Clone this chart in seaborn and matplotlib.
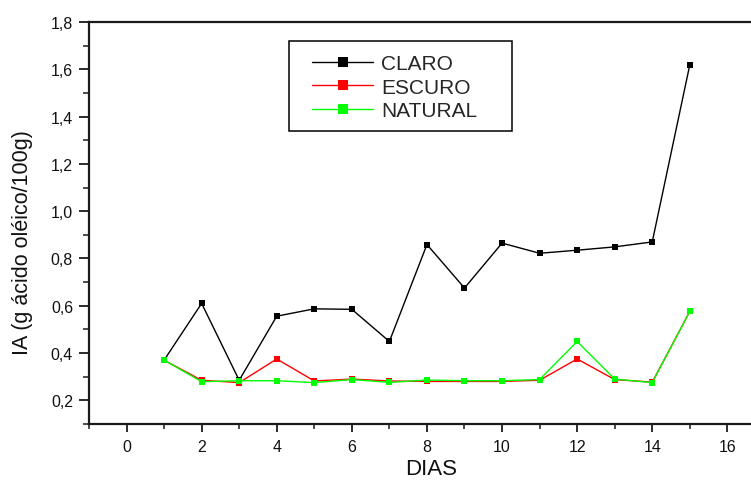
import matplotlib
matplotlib.use("Agg")
import matplotlib.pyplot as plt
from matplotlib.ticker import MultipleLocator, FuncFormatter
from matplotlib.lines import Line2D
from matplotlib.patches import Rectangle
import seaborn as sns
import pandas as pd

dias = list(range(1, 16))
claro = [0.37, 0.61, 0.285, 0.556, 0.587, 0.585, 0.449, 0.859, 0.675, 0.865,
         0.822, 0.835, 0.849, 0.870, 1.619]
escuro = [0.37, 0.285, 0.275, 0.375, 0.282, 0.290, 0.282, 0.280, 0.280, 0.280,
          0.285, 0.375, 0.288, 0.277, 0.576]
natural = [0.37, 0.279, 0.283, 0.283, 0.275, 0.288, 0.276, 0.286, 0.283, 0.283,
           0.288, 0.449, 0.290, 0.275, 0.576]
series = ["CLARO", "ESCURO", "NATURAL"]
colors = {"CLARO": "#000000", "ESCURO": "#ff0000", "NATURAL": "#00ff00"}

df = pd.DataFrame({
    "DIAS": dias * 3,
    "IA": claro + escuro + natural,
    "amostra": [s for s in series for _ in dias],
})

sns.set_style("ticks")
plt.rcParams["font.family"] = ["Liberation Sans", "DejaVu Sans"]

fig = plt.figure(figsize=(7.51, 4.81), dpi=100)
ax = fig.add_axes([0.1185, 0.1164, 0.9000, 0.8358])

sns.lineplot(data=df, x="DIAS", y="IA", hue="amostra", hue_order=series,
             palette=colors, marker="s", markersize=5, markeredgewidth=0,
             linewidth=1.0, ax=ax, legend=False)

ax.set_xlim(-1, 17)
ax.set_ylim(0.1, 1.8)
ax.xaxis.set_major_locator(MultipleLocator(2))
ax.xaxis.set_minor_locator(MultipleLocator(1))
ax.yaxis.set_major_locator(MultipleLocator(0.2))
ax.yaxis.set_minor_locator(MultipleLocator(0.1))
ax.yaxis.set_major_formatter(FuncFormatter(lambda v, p: f"{v:.1f}".replace(".", ",")))

for s in ["left", "bottom", "top"]:
    ax.spines[s].set_linewidth(1.6)
    ax.spines[s].set_color("#1a1a1a")
ax.spines["right"].set_visible(False)

ax.tick_params(axis="x", which="major", direction="out", length=6, width=1.3, pad=4.5)
ax.tick_params(axis="x", which="minor", direction="out", length=3.5, width=1.1)
ax.tick_params(axis="y", which="major", direction="out", length=7, width=1.3, pad=4.5)
ax.tick_params(axis="y", which="minor", direction="out", length=4, width=1.1)
ax.tick_params(axis="both", which="both", labelsize=11.5, colors="#1a1a1a",
               labelcolor="#111111", top=False, right=False)

ax.set_xlabel("")
ax.set_ylabel("")
fig.text(0.5739, 0.002, "DIAS", fontsize=16, ha="center", va="bottom", color="#111111")
fig.text(0.0306, 0.4948, "IA (g ácido oléico/100g)", fontsize=15.5, rotation=90,
         ha="center", va="center", color="#111111")

# legend frame drawn separately so its padding can be set freely
ax.add_patch(Rectangle((0.2963, 0.7281), 0.6263 - 0.2963, 0.9535 - 0.7281,
                       transform=ax.transAxes, facecolor="white",
                       edgecolor="#000000", linewidth=1.1, zorder=4))
handles = [Line2D([0], [0], color=colors[s], marker="s", markersize=6.5,
                  markeredgewidth=0, linewidth=1.0) for s in series]
leg = ax.legend(handles, series, loc="upper left", bbox_to_anchor=(0.3295, 0.9206),
                fontsize=15, frameon=False, handlelength=2.96,
                borderpad=0, labelspacing=0.23, handletextpad=0.355,
                borderaxespad=0)
leg.set_zorder(5)

fig.savefig("out.png", dpi=100)
